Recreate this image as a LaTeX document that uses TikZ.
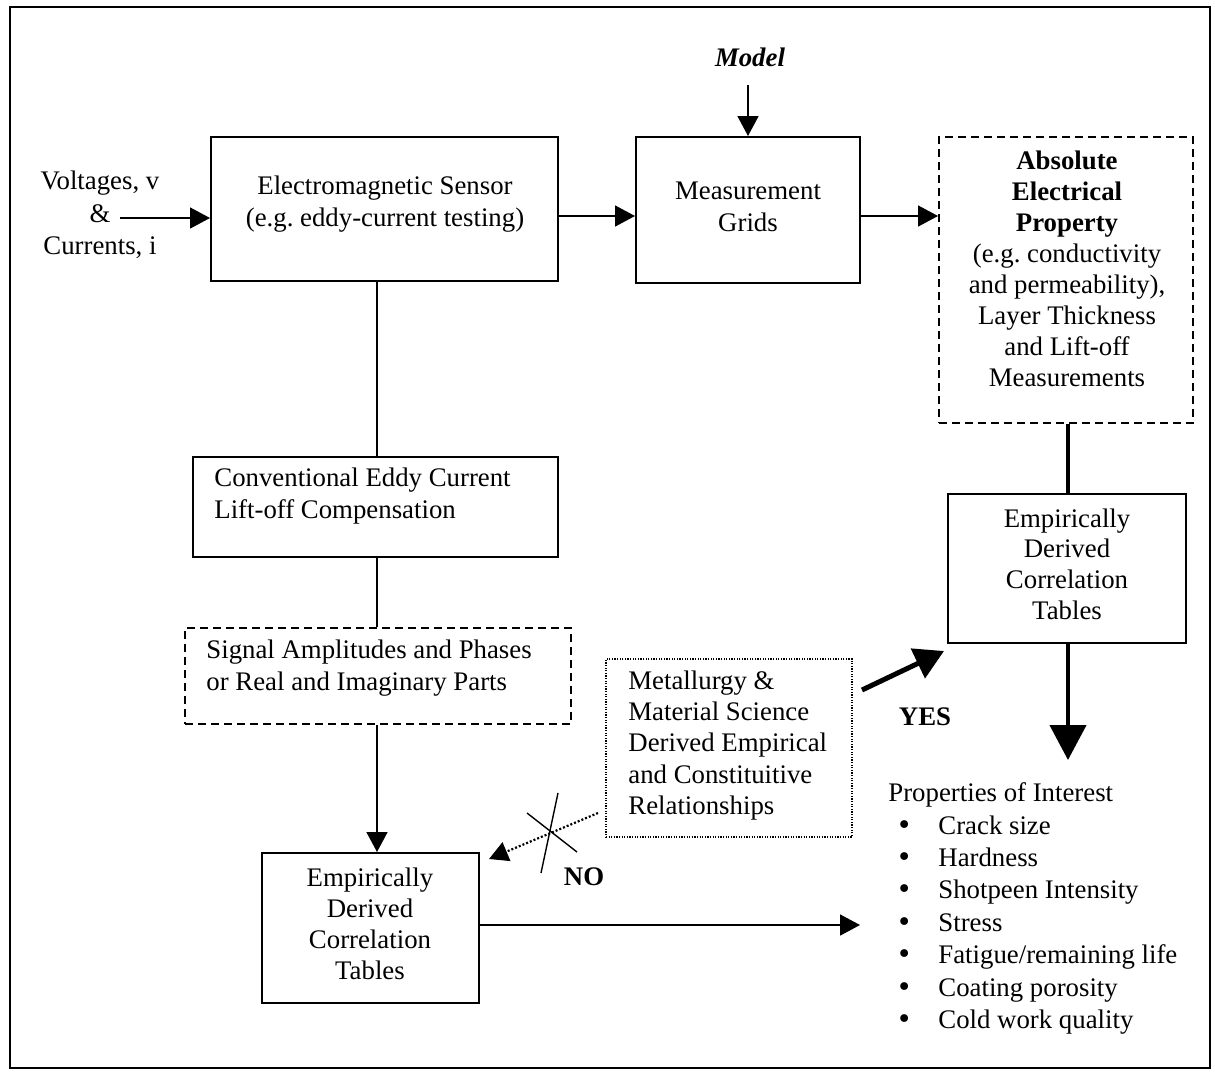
\documentclass[tikz,border=0pt]{standalone}
\usepackage{fontspec}
\setmainfont{Liberation Serif}
\newfontfamily\bulfont{DejaVu Sans}
\usetikzlibrary{arrows.meta,calc}
\frenchspacing
\newcommand\propbul{\makebox[25pt][l]{\hspace{4pt}{\bulfont •}}}
\begin{document}
\begin{tikzpicture}[x=0.5pt,y=-0.5pt,
  box/.style={draw,line width=1pt,inner sep=0pt},
  dbox/.style={box,dash pattern=on 4pt off 2.5pt},
  obox/.style={draw,line width=0.9pt,inner sep=0pt,dash pattern=on 0.6pt off 0.7pt},
  txt/.style={inner sep=0pt,align=center,font=\fontsize{13.4}{16}\selectfont},
  conn/.style={line width=0.8pt},
  arr/.style={conn,-{Triangle[length=10pt,width=10.5pt]}},
  thickln/.style={line width=2.2pt},
  bigarr/.style={line width=2.2pt,-{Triangle[length=17.5pt,width=18pt]}},
  yesarr/.style={line width=2.5pt,-{Triangle[length=14.5pt,width=16pt]}},
  dotarr/.style={line width=1.1pt,dash pattern=on 1pt off 1pt,-{Triangle[length=9.5pt,width=10pt]}},
  crossln/.style={line width=0.7pt}
]
\useasboundingbox (0,0) rectangle (1215,1072);
\draw[line width=1.1pt] (10,7) rectangle (1210,1068);

% boxes
\node[box,minimum width=173.5pt,minimum height=72pt] (sensor) at (384.5,209) {};
\node[box,minimum width=112pt,minimum height=73pt] (grids) at (748,210) {};
\node[dbox,minimum width=127pt,minimum height=143pt] (abs) at (1066,280) {};
\node[box,minimum width=182.5pt,minimum height=50pt] (conv) at (375.5,507) {};
\node[dbox,minimum width=193pt,minimum height=48pt] (sig) at (378,676) {};
\node[obox,minimum width=123pt,minimum height=89pt] (metal) at (729,748) {};
\node[box,minimum width=119pt,minimum height=74.5pt] (empR) at (1067,568.5) {};
\node[box,minimum width=108.5pt,minimum height=75pt] (empL) at (370.5,928) {};

% texts
\node[txt] (sensorT) at (385,204) {Electromagnetic Sensor\\(e.g. eddy-current testing)};
\node[txt] (gridsT) at (748,207) {Measurement\\Grids};
\node[txt,font=\fontsize{13.4}{16}\selectfont\bfseries\itshape] (model) at (750,57) {Model};
\node[txt,font=\fontsize{13.4}{16.3}\selectfont] (inT) at (100,215) {Voltages, v\\\&\\Currents, i};
\node[txt,font=\fontsize{13.4}{15.5}\selectfont] (absT) at (1067,269) {\textbf{Absolute}\\\textbf{Electrical}\\\textbf{Property}\\(e.g. conductivity\\and permeability),\\Layer Thickness\\and Lift-off\\Measurements};
\node[txt,align=left,anchor=west] (convT) at (214,496.5) {Conventional Eddy Current\\Lift-off Compensation};
\node[txt,align=left,anchor=west] (sigT) at (206,668) {Signal Amplitudes and Phases\\or Real and Imaginary Parts};
\node[txt,align=left,anchor=west,font=\fontsize{13.4}{15.6}\selectfont] (metalT) at (628,745.5) {Metallurgy \&\\Material Science\\Derived Empirical\\and Constituitive\\Relationships};
\node[txt,font=\fontsize{13.4}{15.3}\selectfont] (empRT) at (1067,564) {Empirically\\Derived\\Correlation\\Tables};
\node[txt,font=\fontsize{13.4}{15.5}\selectfont] (empLT) at (370,923.5) {Empirically\\Derived\\Correlation\\Tables};
\node[txt,font=\fontsize{13.4}{16}\selectfont\bfseries] (yes) at (925,717) {YES};
\node[txt,font=\fontsize{13.4}{16}\selectfont\bfseries] (no) at (584,877) {NO};
\node[txt,align=left,anchor=west,font=\fontsize{13.4}{16.2}\selectfont] (props) at (888,908.5) {Properties of Interest\\
\propbul Crack size\\
\propbul Hardness\\
\propbul Shotpeen Intensity\\
\propbul Stress\\
\propbul Fatigue/remaining life\\
\propbul Coating porosity\\
\propbul Cold work quality};

% helper coordinates
\coordinate (inA) at (120,218);
\coordinate (y216) at (0,216);
\coordinate (y925) at (0,925);
\coordinate (x377) at (377,0);
\coordinate (x1068) at (1068,0);
\coordinate (m0) at (748,85);
\coordinate (pdown) at (1068,760);
\coordinate (pend) at (860,925);
\coordinate (yesA) at (862,690);
\coordinate (noA) at (598,813);

% connectors
\draw[arr] (inA) -- (inA -| sensor.west);
\draw[arr] (sensor.east |- y216) -- (grids.west |- y216);
\draw[arr] (m0) -- (grids.north);
\draw[arr] (grids.east |- y216) -- (abs.west |- y216);
\draw[conn] (sensor.south -| x377) -- (conv.north -| x377);
\draw[conn] (conv.south -| x377) -- (sig.north -| x377);
\draw[arr] (sig.south -| x377) -- (empL.north -| x377);
\draw[thickln] (abs.south -| x1068) -- (empR.north -| x1068);
\draw[bigarr] (empR.south -| x1068) -- (pdown);
\draw[arr] (empL.east |- y925) -- (pend);
\draw[yesarr] (yesA) -- ([shift={(-3,7)}]empR.south west);
\draw[dotarr] (noA) -- ([shift={(9,7)}]empL.north east);
\draw[crossln] (527,813) -- (577,852);
\draw[crossln] (558,793) -- (541,873);
\end{tikzpicture}
\end{document}
